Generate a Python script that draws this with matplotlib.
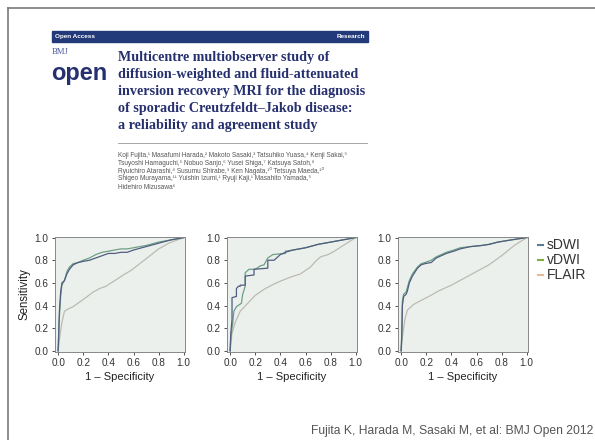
import matplotlib.pyplot as plt
from matplotlib.patches import Rectangle
from matplotlib.lines import Line2D

W, H = 595, 440

# ---- ROC data ----
p1_sdwi_x = [0, 0.01, 0.02, 0.03, 0.05, 0.07, 0.09, 0.12, 0.16, 0.20, 0.25, 0.30, 0.35, 0.40, 0.45, 0.50, 0.55, 0.60, 0.70, 0.80, 0.90, 1.0]
p1_sdwi_y = [0, 0.35, 0.52, 0.60, 0.62, 0.68, 0.72, 0.76, 0.78, 0.79, 0.80, 0.82, 0.84, 0.86, 0.86, 0.87, 0.87, 0.89, 0.92, 0.95, 0.98, 1.0]
p1_vdwi_x = p1_sdwi_x
p1_vdwi_y = [0, 0.30, 0.48, 0.58, 0.62, 0.70, 0.74, 0.77, 0.78, 0.80, 0.82, 0.85, 0.87, 0.88, 0.89, 0.90, 0.90, 0.91, 0.93, 0.96, 0.98, 1.0]
p1_flair_x = [0, 0.01, 0.03, 0.05, 0.08, 0.12, 0.17, 0.22, 0.28, 0.33, 0.38, 0.45, 0.52, 0.58, 0.65, 0.72, 0.80, 0.88, 0.95, 1.0]
p1_flair_y = [0, 0.10, 0.25, 0.35, 0.37, 0.39, 0.43, 0.47, 0.52, 0.55, 0.57, 0.62, 0.67, 0.71, 0.77, 0.83, 0.90, 0.95, 0.98, 1.0]

p2_sdwi_x = [0, 0.005, 0.015, 0.015, 0.05, 0.05, 0.065, 0.08, 0.08, 0.12, 0.12, 0.19, 0.19, 0.30, 0.30, 0.35, 0.40, 0.44, 0.50, 0.60, 0.70, 0.80, 0.90, 1.0]
p2_sdwi_y = [0, 0.15, 0.28, 0.47, 0.48, 0.55, 0.57, 0.57, 0.58, 0.58, 0.66, 0.67, 0.72, 0.73, 0.80, 0.80, 0.85, 0.87, 0.89, 0.91, 0.94, 0.96, 0.98, 1.0]
p2_vdwi_x = [0, 0.005, 0.02, 0.03, 0.05, 0.09, 0.10, 0.12, 0.12, 0.15, 0.20, 0.24, 0.27, 0.30, 0.34, 0.44, 0.44, 0.50, 0.60, 0.70, 0.80, 0.90, 1.0]
p2_vdwi_y = [0, 0.12, 0.24, 0.35, 0.39, 0.42, 0.50, 0.57, 0.69, 0.72, 0.72, 0.75, 0.76, 0.82, 0.85, 0.86, 0.88, 0.89, 0.91, 0.94, 0.96, 0.98, 1.0]
p2_flair_x = [0, 0.014, 0.04, 0.08, 0.14, 0.20, 0.28, 0.35, 0.41, 0.48, 0.56, 0.64, 0.68, 0.72, 0.78, 0.83, 0.90, 1.0]
p2_flair_y = [0, 0.15, 0.25, 0.35, 0.42, 0.49, 0.55, 0.59, 0.62, 0.65, 0.68, 0.74, 0.79, 0.83, 0.85, 0.88, 0.93, 1.0]

p3_sdwi_x = [0, 0.005, 0.01, 0.02, 0.04, 0.05, 0.065, 0.09, 0.13, 0.16, 0.19, 0.24, 0.28, 0.32, 0.36, 0.42, 0.47, 0.55, 0.64, 0.70, 0.77, 0.88, 1.0]
p3_sdwi_y = [0, 0.13, 0.40, 0.48, 0.50, 0.53, 0.60, 0.66, 0.73, 0.76, 0.77, 0.78, 0.82, 0.84, 0.86, 0.88, 0.90, 0.92, 0.93, 0.94, 0.96, 0.98, 1.0]
p3_vdwi_x = p3_sdwi_x
p3_vdwi_y = [0, 0.15, 0.44, 0.50, 0.52, 0.56, 0.62, 0.68, 0.74, 0.77, 0.78, 0.80, 0.83, 0.85, 0.87, 0.89, 0.91, 0.92, 0.93, 0.94, 0.96, 0.98, 1.0]
p3_flair_x = [0, 0.01, 0.03, 0.05, 0.10, 0.15, 0.22, 0.30, 0.40, 0.50, 0.60, 0.70, 0.80, 0.90, 1.0]
p3_flair_y = [0, 0.12, 0.28, 0.36, 0.41, 0.44, 0.48, 0.53, 0.58, 0.64, 0.70, 0.76, 0.84, 0.93, 1.0]

ticks = [0.0, 0.2, 0.4, 0.6, 0.8, 1.0]
tick_labels = ['0.0', '0.2', '0.4', '0.6', '0.8', '1.0']
series_names = ['sDWI', 'vDWI', 'FLAIR']
line_colors = ['#4f5d7e', '#6d9f88', '#bdbab2']
legend_colors = ['#5a7c96', '#7fae3e', '#e2bc9c']

title_lines = [
    'Multicentre multiobserver study of',
    'diffusion-weighted and fluid-attenuated',
    'inversion recovery MRI for the diagnosis',
    'of sporadic Creutzfeldt\u2013Jakob disease:',
    'a reliability and agreement study',
]
author_lines = [
    'Koji Fujita,\u00b9 Masafumi Harada,\u00b2 Makoto Sasaki,\u00b3 Tatsuhiko Yuasa,\u2074 Kenji Sakai,\u2075',
    'Tsuyoshi Hamaguchi,\u2075 Nobuo Sanjo,\u2076 Yusei Shiga,\u2077 Katsuya Satoh,\u2078',
    'Ryuichiro Atarashi,\u2078 Susumu Shirabe,\u2079 Ken Nagata,\u00b9\u2070 Tetsuya Maeda,\u00b9\u2070',
    'Shigeo Murayama,\u00b9\u00b9 Yuishin Izumi,\u00b9 Ryuji Kaji,\u00b9 Masahito Yamada,\u2075',
    'Hidehiro Mizusawa\u2076',
]
citation = 'Fujita K, Harada M, Sasaki M, et al: BMJ Open 2012'

panels = [
    [(p1_sdwi_x, p1_sdwi_y), (p1_vdwi_x, p1_vdwi_y), (p1_flair_x, p1_flair_y)],
    [(p2_sdwi_x, p2_sdwi_y), (p2_vdwi_x, p2_vdwi_y), (p2_flair_x, p2_flair_y)],
    [(p3_sdwi_x, p3_sdwi_y), (p3_vdwi_x, p3_vdwi_y), (p3_flair_x, p3_flair_y)],
]
panel_left = [55, 227, 398]   # pixel left edges of the three axes
panel_w, top, bottom = 130, 237, 352

navy = '#26306e'
sans = ['Liberation Sans', 'DejaVu Sans']


def fx(x):
    return x / W


def fy(y):
    return 1 - y / H


fig = plt.figure(figsize=(W / 100, H / 100), dpi=100)
fig.patch.set_facecolor('white')

# slide frame (top and left edges only)
fig.add_artist(Line2D([fx(8), fx(8)], [fy(8), 0], color='#7a7a7a', lw=1.2))
fig.add_artist(Line2D([fx(8), 1], [fy(8), fy(8)], color='#7a7a7a', lw=1.2))

# ---- paper header ----
fig.add_artist(Rectangle((fx(52), fy(42)), fx(368) - fx(52), fy(31) - fy(42),
                         color='#22397a', transform=fig.transFigure))
fig.text(fx(55), fy(36.5), 'Open Access', color='white', fontsize=4.6,
         fontweight='bold', family=sans, va='center')
fig.text(fx(365), fy(36.5), 'Research', color='white', fontsize=4.6,
         fontweight='bold', family=sans, va='center', ha='right')
fig.text(fx(52), fy(52), 'BMJ', color='#4a5aa0', fontsize=6.3,
         family='Liberation Serif', va='center')
fig.text(fx(51), fy(80), 'open', color=navy, fontsize=17, fontweight='bold',
         family=sans, va='baseline')

for i, line in enumerate(title_lines):
    fig.text(fx(118), fy(58 + i * 16.8), line, color=navy, fontsize=10.2,
             family='Liberation Serif', fontweight='bold', va='center')

fig.add_artist(Line2D([fx(118), fx(367)], [fy(143), fy(143)],
                      color='#999999', lw=0.6))
for i, line in enumerate(author_lines):
    fig.text(fx(118), fy(155 + i * 8), line, color='#555555', fontsize=4.7,
             family=sans, va='center')

# ---- ROC panels ----
for k, (curves, left) in enumerate(zip(panels, panel_left)):
    ax = fig.add_axes([fx(left), fy(bottom), panel_w / W, (bottom - top) / H])
    ax.set_facecolor('#ecf0ed')
    for (xs, ys), c in zip(curves[::-1], line_colors[::-1]):
        ax.plot(xs, ys, color=c, lw=0.9)
    ax.set_xlim(-0.025, 1.01)
    ax.set_ylim(-0.01, 1.005)
    ax.set_xticks(ticks)
    ax.set_xticklabels(tick_labels)
    ax.set_yticks(ticks)
    ax.set_yticklabels(tick_labels)
    ax.tick_params(labelsize=7.2, colors='#333333', length=2.5, width=0.6, pad=2)
    for lab in ax.get_xticklabels() + ax.get_yticklabels():
        lab.set_family(sans)
    for s in ax.spines.values():
        s.set_color('#888888')
        s.set_linewidth(0.7)
    ax.set_xlabel('1 \u2013 Specificity', fontsize=8, family=sans,
                  color='#222222', labelpad=3)
    if k == 0:
        ax.set_ylabel('Sensitivity', fontsize=8.3, family=sans,
                      color='#222222', labelpad=3)

# legend drawn by hand at the right
for i, (name, c) in enumerate(zip(series_names, legend_colors)):
    y = 245 + i * 15
    fig.add_artist(Line2D([fx(538), fx(543)], [fy(y), fy(y)], color=c, lw=1.5))
    fig.text(fx(547), fy(y), name, fontsize=10, family=sans,
             color='#333333', va='center')

fig.text(fx(593), fy(431), citation, fontsize=8.7, family=sans,
         color='#555555', va='center', ha='right')

fig.savefig('out.png', dpi=100)
